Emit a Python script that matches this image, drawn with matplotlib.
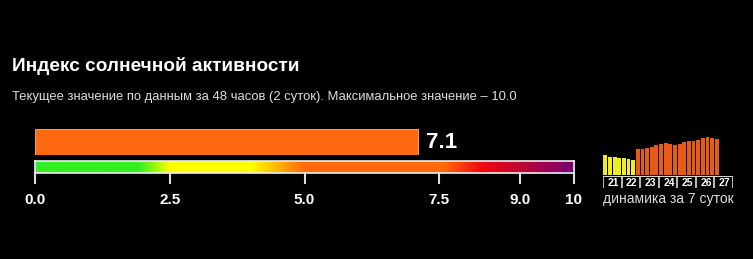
import matplotlib.pyplot as plt
from matplotlib.colors import LinearSegmentedColormap
import numpy as np

plt.rcParams["font.family"] = ["Liberation Sans", "DejaVu Sans"]

W, H = 753, 259

title = "Индекс солнечной активности"
subtitle = "Текущее значение по данным за 48 часов (2 суток). Максимальное значение – 10.0"
current_value = 7.1
max_value = 10.0
tick_values = [0.0, 2.5, 5.0, 7.5, 9.0, 10.0]
tick_labels = ["0.0", "2.5", "5.0", "7.5", "9.0", "10"]

# 6-hourly history over the last 7 days (4 bars per day)
days = ["21", "22", "23", "24", "25", "26", "27"]
history = [4.0, 3.6, 3.6, 3.4, 3.4, 3.2, 3.0,
           5.2, 5.2, 5.4, 5.6, 6.0, 6.2, 6.4, 6.2, 6.0, 6.2,
           6.6, 6.8, 6.8, 7.0, 7.4, 7.6, 7.4, 7.2]
history_caption = "динамика за 7 суток"

scale_colors = [(0.0, "#33ee22"), (0.19, "#33ee22"), (0.25, "#ffff00"), (0.40, "#ffff00"),
                (0.50, "#ff6a10"), (0.76, "#ff6a10"), (0.83, "#ee0a0a"), (1.0, "#7a0070")]


def px_axes(fig, x0, y0, x1, y1):
    # pixel box (top-left origin) -> figure axes
    return fig.add_axes([x0 / W, 1 - y1 / H, (x1 - x0) / W, (y1 - y0) / H])


fig = plt.figure(figsize=(W / 100, H / 100), dpi=100, facecolor="black")

fig.text(12 / W, 1 - 66 / H, title, color="white", fontsize=13.7, fontweight="bold", va="center")
fig.text(12 / W, 1 - 97 / H, subtitle, color="#dddddd", fontsize=9.4, va="center")

# main bar
ax = px_axes(fig, 35, 129, 574, 155)
ax.set_facecolor("black")
ax.barh([0], [current_value], height=1.0, color="#ff6a10", edgecolor="#ffb070", linewidth=0.6)
ax.set_xlim(0, max_value)
ax.set_ylim(-0.5, 0.5)
ax.axis("off")
fig.text((418 + 8) / W, 1 - 142 / H, f"{current_value:.1f}", color="white", fontsize=16,
         fontweight="bold", va="center")

# colour scale
cax = px_axes(fig, 35, 161, 574, 173)
cmap = LinearSegmentedColormap.from_list("act", scale_colors)
cax.imshow(np.linspace(0, 1, 500)[None, :], aspect="auto", cmap=cmap, extent=[0, max_value, 0, 1])
cax.set_xlim(0, max_value)
cax.set_yticks([])
cax.set_xticks(tick_values)
cax.set_xticklabels(tick_labels, color="white", fontsize=11, fontweight="bold")
cax.tick_params(axis="x", colors="#dddddd", length=8, width=1.5, pad=6.5, labelcolor="white")
for s in cax.spines.values():
    s.set_color("#eeeeee")
    s.set_linewidth(1.2)

# history mini chart
hax = px_axes(fig, 603, 136, 733, 175)
hax.set_facecolor("black")
xs = np.arange(len(history))
cols = ["#eeee22" if v < 4.5 else "#e85a1a" for v in history]
hax.bar(xs + 0.5, history, width=0.82, color=cols)
hax.set_xlim(0, len(days) * 4)
hax.set_ylim(0, 7.8)
hax.axis("off")

dax = px_axes(fig, 603, 176, 733, 188)
dax.set_facecolor("black")
dax.set_xlim(0, len(days))
dax.set_ylim(0, 1)
dax.axis("off")
dax.axhline(1.0, color="white", linewidth=1.2)
for i, d in enumerate(days):
    dax.vlines(i, 0, 1, color="#dddddd", linewidth=1.2)
    dax.text(i + 0.55, 0.45, d, color="white", fontsize=7.5, fontweight="bold", ha="center", va="center")
dax.vlines(len(days), 0, 1, color="#dddddd", linewidth=1.2)

fig.text(603 / W, 1 - 199 / H, history_caption, color="#dddddd", fontsize=10, va="center")

fig.savefig("out.png", dpi=100, facecolor="black")
